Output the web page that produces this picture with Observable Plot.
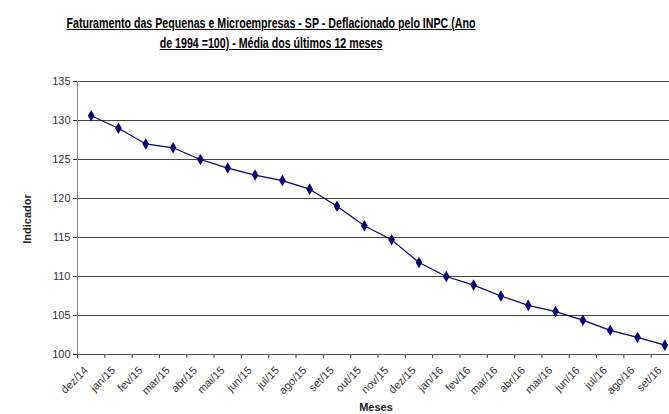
<!DOCTYPE html>
<html><head><meta charset="utf-8">
<script src="https://cdn.jsdelivr.net/npm/d3@7"></script>
<script src="https://cdn.jsdelivr.net/npm/@observablehq/plot@0.6"></script>
<style>
html,body{margin:0;padding:0;overflow:hidden;background:#fff;width:669px;height:414px}
#wrap{position:relative;width:669px;height:414px;overflow:hidden}
#title{position:absolute;left:0;top:13px;width:542px;text-align:center;font:bold 14px "Liberation Sans",Arial,sans-serif;line-height:20px;color:#000;text-decoration:underline;transform:scaleX(0.76);transform-origin:271px 0;white-space:nowrap}
#ylab{position:absolute;left:27px;top:219px;transform:translate(-50%,-50%) rotate(-90deg);font:bold 11px "Liberation Sans",Arial,sans-serif;color:#222;white-space:nowrap}
#xlab{position:absolute;left:376px;top:401px;transform:translateX(-50%);font:bold 11px "Liberation Sans",Arial,sans-serif;color:#222;white-space:nowrap;line-height:12px}
#chart{position:absolute;left:0;top:0}
#chart svg{max-width:none !important}
</style></head>
<body><div id="wrap">
<div id="chart"></div>
<div id="title">Faturamento das Pequenas e Microempresas - SP - Deflacionado pelo INPC (Ano<br>de 1994 =100) - Média dos últimos 12 meses</div>
<div id="ylab">Indicador</div>
<div id="xlab">Meses</div>
</div>
<script>
const months = ["dez/14","jan/15","fev/15","mar/15","abr/15","mai/15","jun/15","jul/15","ago/15","set/15","out/15","nov/15","dez/15","jan/16","fev/16","mar/16","abr/16","mai/16","jun/16","jul/16","ago/16","set/16"];
const values = [130.6,129.0,127.0,126.5,125.0,123.9,123.0,122.3,121.2,119.0,116.5,114.7,111.8,110.0,108.9,107.5,106.3,105.5,104.4,103.1,102.2,101.2];
const yTicks = [100,105,110,115,120,125,130,135];

const data = months.map((m,i)=>({m, pos:i+0.5, v:values[i]}));

const chart = Plot.plot({
  width: 680, height: 414,
  marginLeft: 77, marginRight: 2, marginTop: 81, marginBottom: 60,
  x: {type:"linear", domain:[0, months.length]},
  y: {domain:[100,135]},
  style: {fontFamily:"'Liberation Sans', Arial, sans-serif", fontSize:"11px", color:"#333", background:"transparent", maxWidth:"none"},
  marks: [
    Plot.gridY(yTicks, {stroke:"#444", strokeOpacity:1}),
    Plot.axisY(yTicks, {tickSize:4, tickPadding:3, label:null, fontSize:11}),
    Plot.axisX(d3.range(months.length+1), {tickSize:4, tickFormat:()=>"", label:null}),
    Plot.axisX(data.map(d=>d.pos), {tickSize:0, tickFormat:d=>months[Math.floor(d)], tickRotate:-45, tickPadding:14, dx:-5, label:null, fontSize:11}),
    Plot.ruleX([0], {stroke:"#888"}),
    Plot.ruleY([100], {stroke:"#555"}),
    Plot.line(data, {x:"pos", y:"v", stroke:"#000080", strokeWidth:1.2}),
    Plot.dot(data, {x:"pos", y:"v", symbol:"diamond", fill:"#000080", r:3.5})
  ]
});
chart.style.maxWidth = "none";
document.getElementById("chart").appendChild(chart);
</script>
</body></html>
